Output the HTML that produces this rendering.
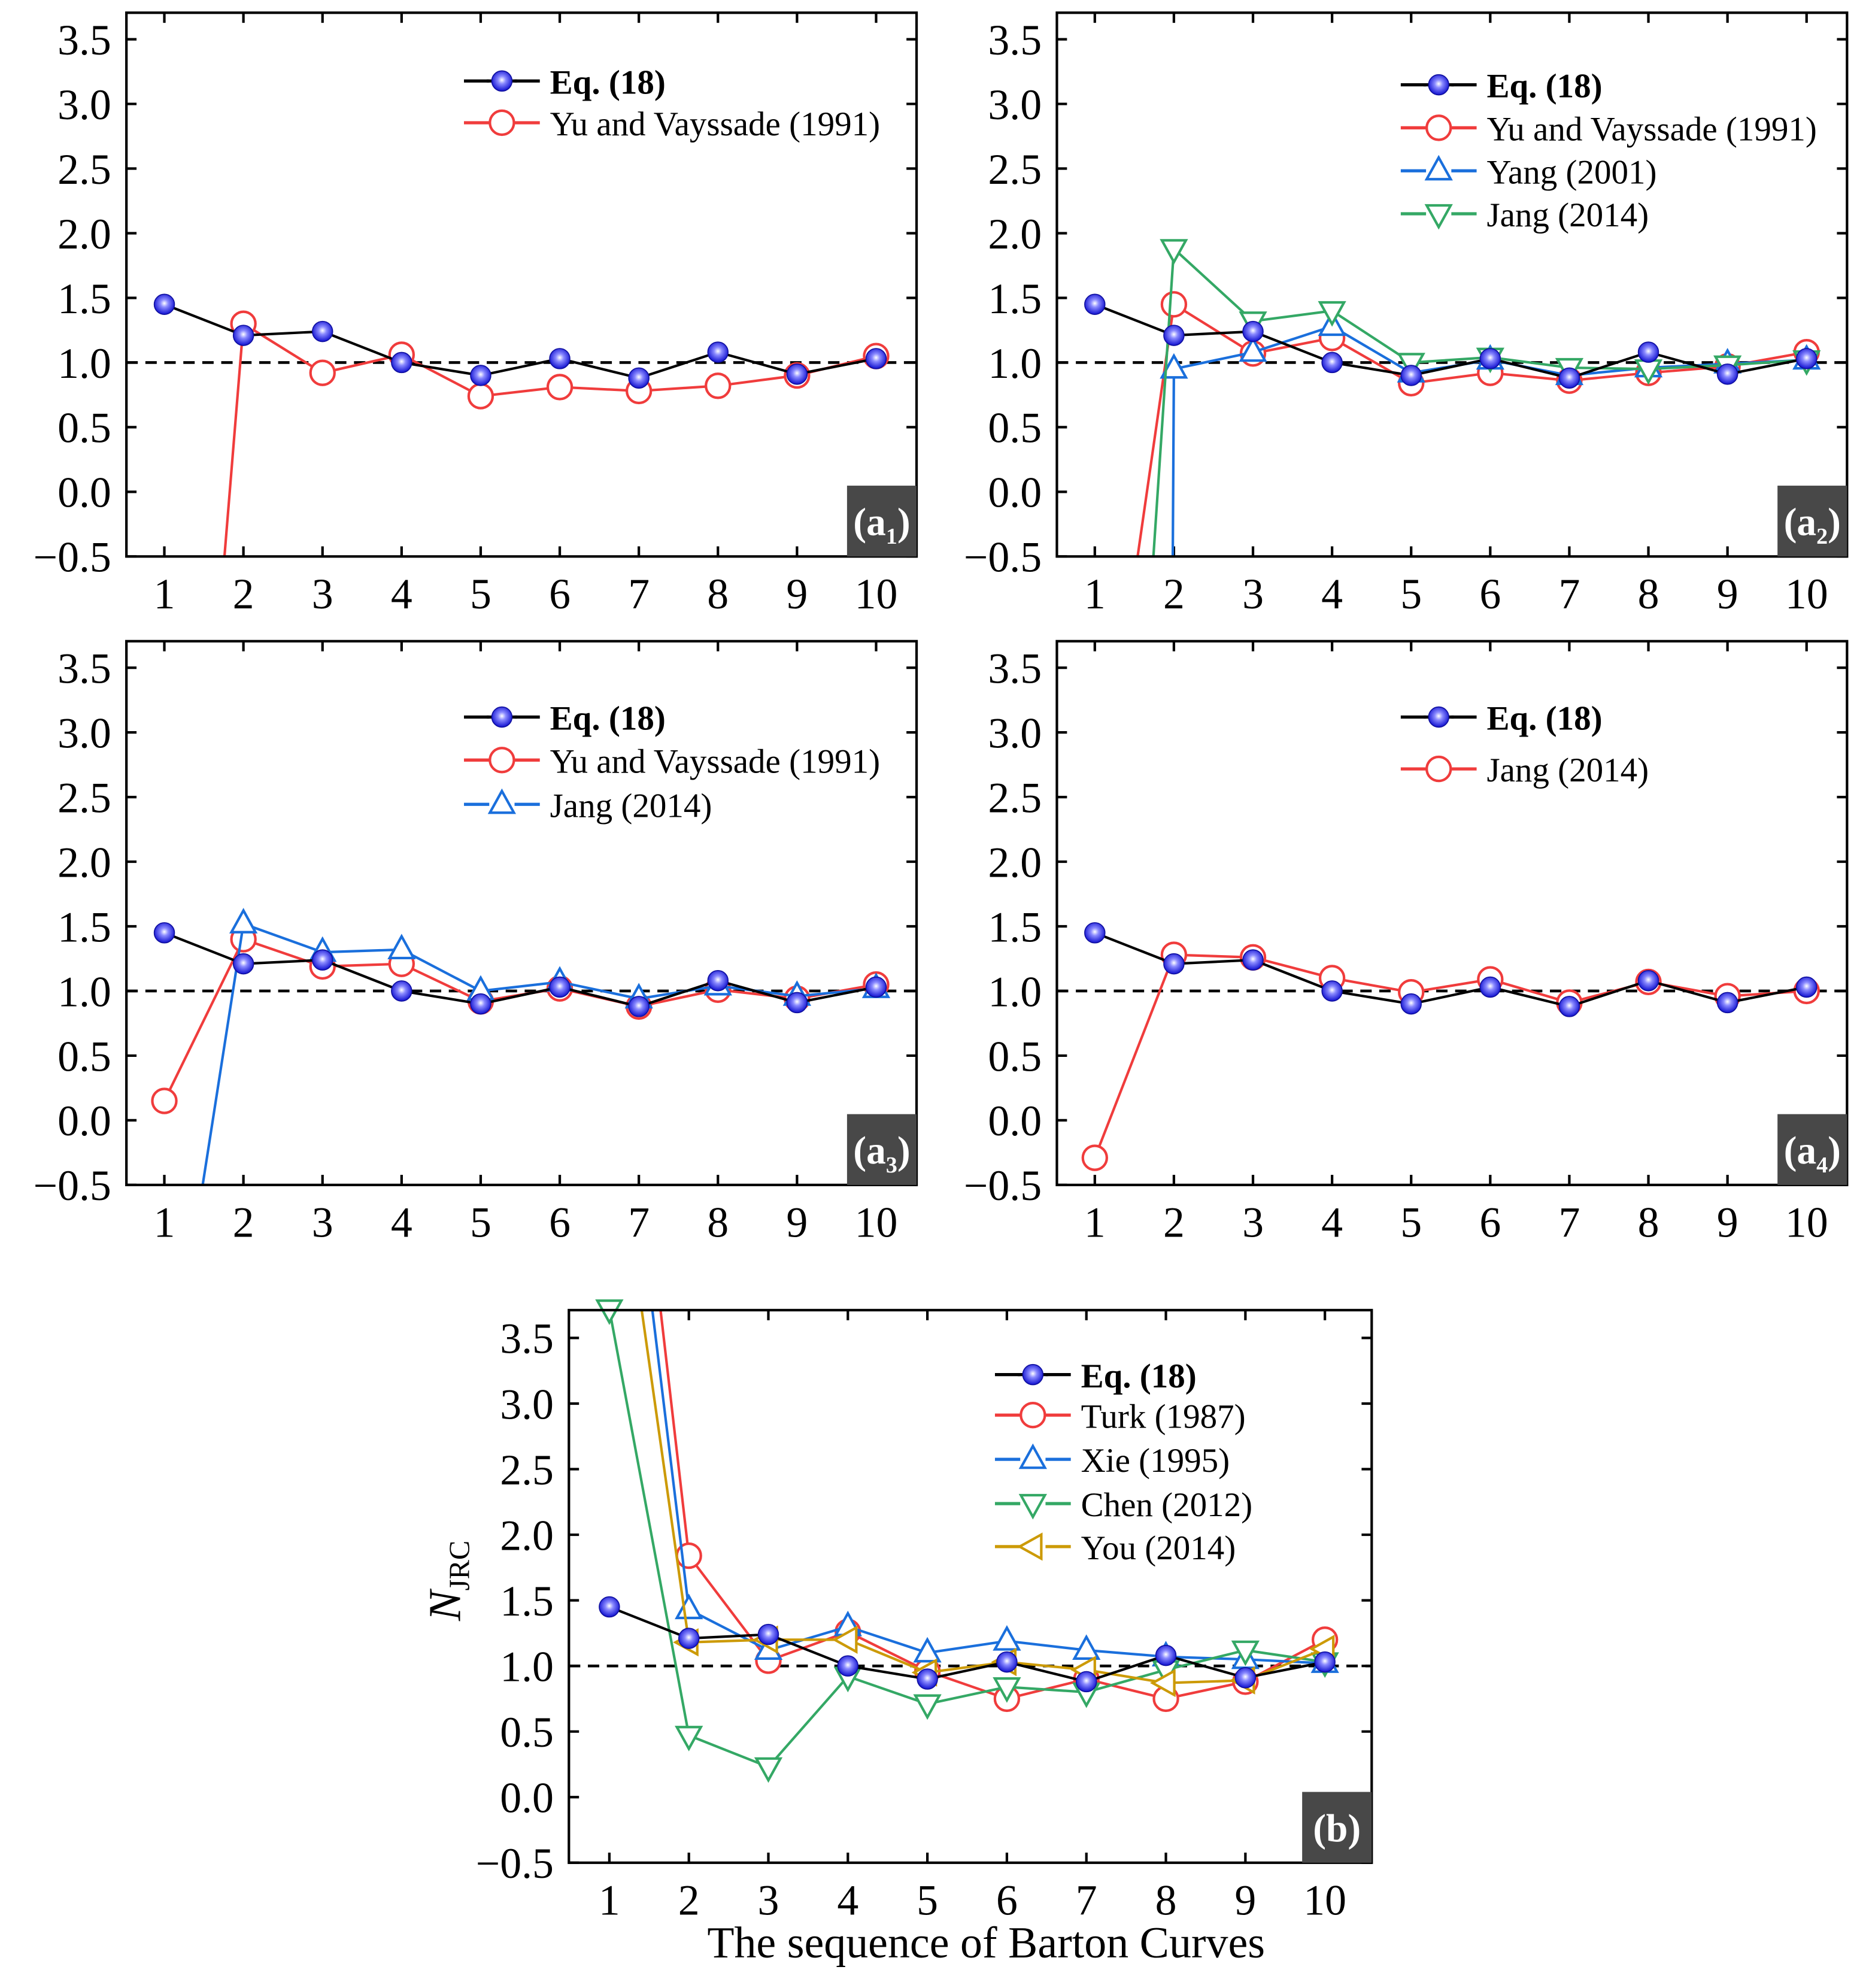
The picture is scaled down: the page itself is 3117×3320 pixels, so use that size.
<!DOCTYPE html>
<html><head><meta charset="utf-8"><style>
html,body{margin:0;padding:0;background:#fff;width:3117px;height:3320px;overflow:hidden;}
svg{display:block;font-family:"Liberation Serif","DejaVu Serif",serif;}
</style></head><body>
<svg id="fig" xmlns="http://www.w3.org/2000/svg" width="3117" height="3320" viewBox="0 0 1476 1572">
<defs>
<radialGradient id="ball" cx="0.5" cy="0.45" r="0.55">
<stop offset="0" stop-color="#ffffff"/><stop offset="0.35" stop-color="#8a8aff"/><stop offset="1" stop-color="#1010d0"/>
</radialGradient>
</defs>
</svg>
<script>
const categories=[1,2,3,4,5,6,7,8,9,10];
const yTicks=[-0.5,0.0,0.5,1.0,1.5,2.0,2.5,3.0,3.5];
const eq18=[1.45,1.21,1.24,1.0,0.9,1.03,0.88,1.08,0.91,1.03];
const a1Yu=[-6.2,1.30,0.92,1.06,0.74,0.81,0.78,0.82,0.90,1.05];
const a2Yu=[-2.8,1.45,1.07,1.19,0.84,0.92,0.86,0.92,0.97,1.08];
const a2Yang=[-100,0.95,1.08,1.28,0.92,1.02,0.90,0.96,0.99,1.02];
const a2Jang=[-7.3,1.88,1.32,1.40,1.00,1.04,0.96,0.95,0.98,1.02];
const a3Yu=[0.15,1.40,1.19,1.21,0.92,1.02,0.88,1.01,0.94,1.05];
const a3Jang=[-2.4,1.52,1.30,1.32,1.00,1.07,0.94,1.04,0.96,1.02];
const a4Jang=[-0.29,1.28,1.26,1.10,0.99,1.09,0.91,1.07,0.96,1.00];
const bTurk=[7.1,1.84,1.04,1.26,0.96,0.75,0.90,0.75,0.88,1.20];
const bXie=[6.4,1.43,1.12,1.30,1.10,1.19,1.12,1.07,1.05,1.02];
const bChen=[3.72,0.47,0.23,0.92,0.71,0.84,0.80,0.97,1.12,1.03];
const bYou=[5.45,1.18,1.20,1.20,0.95,1.03,0.97,0.87,0.89,1.13];

const RED='#f03c3c',BLUE='#1a6fdc',GREEN='#34a865',GOLD='#cc9a06';
const svg=document.getElementById('fig');
const NS='http://www.w3.org/2000/svg';
function mk(tag,attrs,parent){const e=document.createElementNS(NS,tag);for(const k in attrs)e.setAttribute(k,attrs[k]);(parent||svg).appendChild(e);return e;}

const panels=[
 {id:'a1',x0:100,x1:725,y0:10,y1:440,lab:'a',sub:'1',series:[['Yu and Vayssade (1991)',a1Yu,RED,'circle']],lx:367,ly:[64,97]},
 {id:'a2',x0:836,x1:1461,y0:10,y1:440,lab:'a',sub:'2',series:[['Yu and Vayssade (1991)',a2Yu,RED,'circle'],['Yang (2001)',a2Yang,BLUE,'up'],['Jang (2014)',a2Jang,GREEN,'down']],lx:1108,ly:[67,101,135,169]},
 {id:'a3',x0:100,x1:725,y0:507,y1:937,lab:'a',sub:'3',series:[['Yu and Vayssade (1991)',a3Yu,RED,'circle'],['Jang (2014)',a3Jang,BLUE,'up']],lx:367,ly:[567,601,636]},
 {id:'a4',x0:836,x1:1461,y0:507,y1:937,lab:'a',sub:'4',series:[['Jang (2014)',a4Jang,RED,'circle']],lx:1108,ly:[567,608]},
 {id:'b',x0:450,x1:1085,y0:1036,y1:1473,lab:'b',sub:'',series:[['Turk (1987)',bTurk,RED,'circle'],['Xie (1995)',bXie,BLUE,'up'],['Chen (2012)',bChen,GREEN,'down'],['You (2014)',bYou,GOLD,'left']],lx:787,ly:[1087,1119,1154,1189,1223]}
];

function marker(g,type,x,y,color){
 const r=9.5;let e;
 if(type==='ball'){e=mk('circle',{cx:x,cy:y,r:8,fill:'url(#ball)',stroke:'#1010a0','stroke-width':0.8},g);}
 else if(type==='circle'){e=mk('circle',{cx:x,cy:y,r:r,fill:'#fff',stroke:color,'stroke-width':2},g);}
 else if(type==='up'){e=mk('polygon',{points:`${x},${y-r-1} ${x-r},${y+r*0.7} ${x+r},${y+r*0.7}`,fill:'#fff',stroke:color,'stroke-width':2},g);}
 else if(type==='down'){e=mk('polygon',{points:`${x},${y+r+1} ${x-r},${y-r*0.7} ${x+r},${y-r*0.7}`,fill:'#fff',stroke:color,'stroke-width':2},g);}
 else {e=mk('polygon',{points:`${x-r-1},${y} ${x+r*0.7},${y-r} ${x+r*0.7},${y+r}`,fill:'#fff',stroke:color,'stroke-width':2},g);}
 return e;
}

panels.forEach(p=>{
 const g=mk('g',{});
 
 
 const isB=p.id==='b';
 const yTop=isB?1058:p.y0+21, yBot=p.y1;
 const yScale=v=>yBot-(v+0.5)*(yBot-yTop)/4;
 const xa=isB?482:p.x0+30, xb=isB?1048:p.x0+593;
 const xScale=i=>xa+(i-1)*(xb-xa)/9;
 const cid='clip-'+p.id;
 const cp=mk('clipPath',{id:cid},g);mk('rect',{x:p.x0,y:p.y0,width:p.x1-p.x0,height:p.y1-p.y0},cp);
 yTicks.forEach(t=>{
  const y=yScale(t);
  const l=mk('line',{x1:p.x0,x2:p.x0+8,y1:y,y2:y,stroke:'#000','stroke-width':2},g);
  
  mk('line',{x1:p.x1,x2:p.x1-8,y1:y,y2:y,stroke:'#000','stroke-width':2},g);
  const tx=mk('text',{x:p.x0-12,y:y+12,'font-size':34,'text-anchor':'end'},g);
  
  tx.textContent=t<0?'\u2212'+Math.abs(t).toFixed(1):t.toFixed(1);
 });
 categories.forEach(c=>{
  const x=xScale(c);
  mk('line',{x1:x,x2:x,y1:p.y1,y2:p.y1-8,stroke:'#000','stroke-width':2},g);
  mk('line',{x1:x,x2:x,y1:p.y0,y2:p.y0+8,stroke:'#000','stroke-width':2},g);
  const tx=mk('text',{x:x,y:p.y1+41,'font-size':34,'text-anchor':'middle'},g);
  
  tx.textContent=c;
 });
 const rl=mk('line',{x1:p.x0,x2:p.x1,y1:yScale(1),y2:yScale(1),stroke:'#000','stroke-width':2.2,'stroke-dasharray':'9,6'},g);
 
 const all=p.series.concat([['Eq. (18)',eq18,'#000','ball']]);
 all.forEach(s=>{
  const [name,vals,color,type]=s;
  const sg=mk('g',{},g);
  
  
  const pts=vals.map((v,i)=>xScale(categories[i])+','+yScale(v)).join(' ');
  mk('polyline',{points:pts,fill:'none',stroke:color,'stroke-width':2,'clip-path':`url(#${cid})`},sg);
  vals.forEach((v,i)=>{
   if(v<-0.6||v>3.8)return;
   const m=marker(sg,type,xScale(categories[i]),yScale(v),color);
   
   
  });
 });
 const fr=mk('rect',{x:p.x0,y:p.y0,width:p.x1-p.x0,height:p.y1-p.y0,fill:'none',stroke:'#000','stroke-width':2},g);
 
 const lg=mk('g',{},g);
 
 const leg=[['Eq. (18)','#000','ball']].concat(p.series.map(s=>[s[0],s[2],s[3]]));
 leg.forEach((e,i)=>{
  const y=p.ly[i],x=p.lx;
  const eg=mk('g',{},lg);
  
  mk('line',{x1:x,x2:x+20,y1:y,y2:y,stroke:e[1],'stroke-width':2.5},eg);
  mk('line',{x1:x+40,x2:x+60,y1:y,y2:y,stroke:e[1],'stroke-width':2.5},eg);
  if(e[2]==='ball')mk('line',{x1:x+18,x2:x+42,y1:y,y2:y,stroke:'#000','stroke-width':2.5},eg);
  marker(eg,e[2],x+30,y,e[1]);
  const t=mk('text',{x:x+68,y:y+10,'font-size':27,'font-weight':e[2]==='ball'?'bold':'normal'},eg);
  t.textContent=e[0];
 });
 const bw=55;
 const lb=mk('g',{},g);
 
 mk('rect',{x:p.x1-bw,y:p.y1-56,width:bw,height:56,fill:'#484848'},lb);
 const t=mk('text',{x:p.x1-bw/2,y:p.y1-17,'font-size':31,'font-weight':'bold',fill:'#fff','text-anchor':'middle'},lb);
 if(p.sub){t.innerHTML='(a<tspan font-size="18" dy="7">'+p.sub+'</tspan><tspan dy="-7">)</tspan>';}
 else t.textContent='(b)';
});
const yt=mk('text',{x:0,y:0,'font-size':36,transform:'translate(364,1250) rotate(-90)','text-anchor':'middle'});

yt.innerHTML='<tspan font-style="italic">N</tspan><tspan font-size="23" dy="7">JRC</tspan>';
const xt=mk('text',{x:780,y:1548,'font-size':35,'text-anchor':'middle'});

xt.textContent='The sequence of Barton Curves';
</script>
</body></html>
